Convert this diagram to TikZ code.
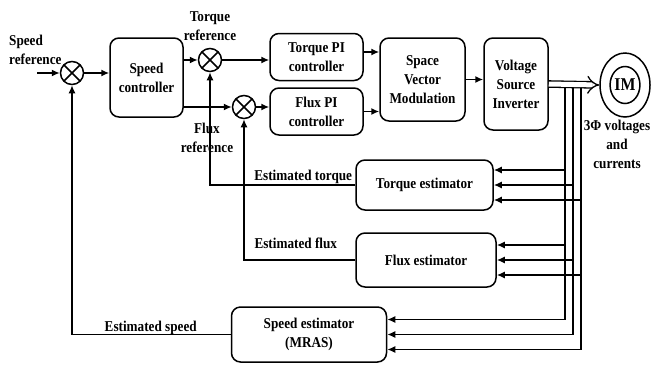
\documentclass[tikz,border=0pt]{standalone}
\usepackage{fontspec}
\setmainfont{Liberation Serif}[FakeStretch=0.88]
\usetikzlibrary{arrows.meta,shapes.geometric}
\begin{document}
\begin{tikzpicture}[x=1pt,y=-1pt]
    \useasboundingbox (0,0) rectangle (652,365);
        \begin{scope}
            \tikzset{blk/.style = {
                draw,
                rounded corners=9pt,
                line width=1.5pt,
                align=center,
                inner sep=0pt,
                font=\fontsize{15}{19}\selectfont\bfseries } }
            \tikzset{sumj/.style = {
                circle,
                draw,
                line width=1.5pt,
                minimum size=23pt,
                inner sep=0pt,
                path picture={
                    \draw[line width=1.5pt]
                        (path picture bounding box.south west) -- (path picture bounding box.north east)
                        (path picture bounding box.north west) -- (path picture bounding box.south east); } } }
            \tikzset{lbl/.style = {
                align=center,
                inner sep=0pt,
                font=\fontsize{15}{19}\selectfont\bfseries } }
            \tikzset{sig/.style = {
                draw,
                line width=1.5pt,
                -{Latex[length=8pt,width=7pt]} } }
            \tikzset{dsig/.style = {
                draw,
                line width=1.3pt,
                double,
                double distance=5pt,
                -{Implies[length=5pt]} } }
                \node[sumj] (sumspd) at (72,73) {};
                \node[sumj] (sumtq) at (210,60) {};
                \node[sumj] (sumfx) at (244,107) {};
                \node[blk, minimum width=73pt, minimum height=79pt] (spdctl) at (146.5,77.5) {Speed\\controller};
                \node[blk, minimum width=93pt, minimum height=47pt] (tqpi) at (316.5,57) {Torque PI\\controller};
                \node[blk, minimum width=93pt, minimum height=47pt] (fxpi) at (316.5,111.5) {Flux PI\\controller};
                \node[blk, minimum width=85pt, minimum height=83pt] (svm) at (422.5,79.5) {Space\\Vector\\Modulation};
                \node[blk, minimum width=64pt, minimum height=92pt] (vsi) at (516,84) {Voltage\\Source\\Inverter};
                \node[blk, minimum width=137pt, minimum height=50pt] (tqest) at (424.5,185) {Torque estimator};
                \node[blk, minimum width=140pt, minimum height=54pt] (fxest) at (426,260) {Flux estimator};
                \node[blk, minimum width=155pt, minimum height=55pt] (spdest) at (309,334.5) {Speed estimator\\(MRAS)};
                \node[ellipse, draw, line width=1.5pt, minimum width=50pt, minimum height=64pt, inner sep=0pt] (im) at (625,85) {};
                \node[ellipse, draw, line width=1.5pt, minimum width=28pt, minimum height=37pt, inner sep=0pt,
                    font=\fontsize{18}{20}\selectfont\bfseries] (iminner) at (im) {IM};
                \node[lbl, anchor=north west, align=left] (spdref) at (9,35) {Speed\\reference};
                \node[lbl, anchor=north] (tqref) at (210,11) {Torque\\reference};
                \node[lbl, anchor=north] (fxref) at (207,123) {Flux\\reference};
                \node[lbl, anchor=north] (vilbl) at (617,120) {3Φ voltages\\and\\currents};
                \node[lbl, anchor=base east] (esttq) at ([xshift=-3pt, yshift=5pt]tqest.west) {Estimated torque};
                \node[lbl, anchor=base east] (estfx) at ([xshift=-18pt, yshift=12pt]fxest.west) {Estimated flux};
                \node[lbl, anchor=base] (estspd) at ([xshift=-80pt, yshift=3pt]spdest.west) {Estimated speed};
                \coordinate (spdin) at (37,73);
                \foreach \i in {1,2,3}{
                    \coordinate (bus\i) at (557+8*\i,87.5);
                }
                \path[sig] (spdin) -- (sumspd.west);
                \path[sig] (sumspd.east) -- (sumspd -| spdctl.west);
                \path[sig] (spdctl.east |- sumtq) -- (sumtq.west);
                \path[sig] (spdctl.east |- sumfx) -- (sumfx.west);
                \path[sig] (sumtq.east) -- (sumtq -| tqpi.west);
                \path[sig] (sumfx.east) -- (sumfx -| fxpi.west);
                \path[sig] ([yshift=5pt]tqpi.east) -- ([yshift=5pt]tqpi.east -| svm.west);
                \path[sig] (fxpi.east) -- (fxpi.east -| svm.west);
                \path[sig] (svm.east) -- (svm.east -| vsi.west);
                \path[dsig] (vsi.east) -- (im.west);
                \foreach \b in {tqest,fxest,spdest}{
                    \foreach \i/\dy in {1/15,2/0,3/-15}{
                        \path[sig] (bus\i) |- ([yshift=\dy pt]\b.east);
                    }
                }
                \path[sig] (tqest.west) -| (sumtq.south);
                \path[sig] (fxest.west) -| (sumfx.south);
                \path[sig] (spdest.west) -| (sumspd.south);
        \end{scope}
    \end{tikzpicture}
\end{document}
